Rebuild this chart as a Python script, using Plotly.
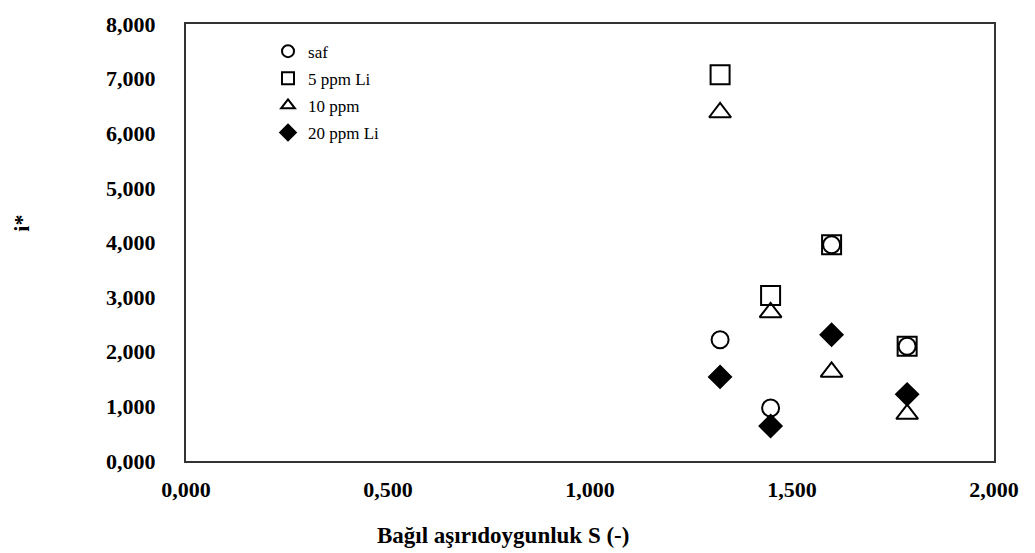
import plotly.graph_objects as go

x_s = [1.322, 1.447, 1.598, 1.785]
saf = [2.22, 0.97, 3.96, 2.10]
li5 = [7.07, 3.03, 3.96, 2.10]
ppm10 = [6.38, 2.72, 1.63, 0.86]
li20 = [1.54, 0.64, 2.31, 1.22]

series_names = ["saf", "5 ppm Li", "10 ppm", "20 ppm Li"]
series_vals = [saf, li5, ppm10, li20]
symbols = ["circle-open", "square-open", "triangle-up-open", "diamond"]
sizes = [17, 19, 19, 17]

fig = go.Figure()
for i, (nm, vals, sym, sz) in enumerate(zip(series_names, series_vals, symbols, sizes)):
    fig.add_trace(go.Scatter(
        x=x_s, y=vals, mode="markers", name=nm, legendgroup=nm,
        marker=dict(symbol=sym, size=sz, color="black",
                    line=dict(color="black", width=2)),
    ))

tick_font = dict(family="Liberation Serif", size=22, color="black", weight="bold")
fig.update_layout(
    width=1035, height=553,
    margin=dict(l=186, r=41, t=20, b=92),
    paper_bgcolor="white", plot_bgcolor="white",
    separators=",.",
    font=dict(family="Liberation Serif", color="black"),
    showlegend=True,
    legend=dict(x=0.1015, y=0.978, xanchor="left", yanchor="top",
                bgcolor="rgba(0,0,0,0)", itemsizing="constant", itemwidth=30,
                tracegroupgap=2, traceorder="grouped",
                font=dict(family="Liberation Serif", size=17, color="black")),
    xaxis=dict(range=[0, 2], tickvals=[0, 0.5, 1, 1.5, 2], tickformat=".3f",
               showgrid=False, zeroline=False, showline=True, mirror=True,
               linecolor="#333333", linewidth=2, ticks="",
               tickfont=tick_font, ticklabelstandoff=8),
    yaxis=dict(range=[0, 8], dtick=1, tickformat=".3f",
               showgrid=False, zeroline=False, showline=True, mirror=True,
               linecolor="#333333", linewidth=2, ticks="",
               tickfont=tick_font, ticklabelstandoff=24),
)
fig.add_annotation(text="<b>i*</b>", xref="paper", yref="paper",
                   x=(22 - 186) / 808, y=(461.5 - 222) / 441, xanchor="center", yanchor="middle",
                   textangle=-90, showarrow=False,
                   font=dict(family="Liberation Serif", size=22, color="black"))
fig.add_annotation(text="<b>Bağıl aşırıdoygunluk S (-)</b>", xref="paper", yref="paper",
                   x=(503 - 186) / 808, y=-(537 - 461.5) / 441, xanchor="center", yanchor="middle",
                   showarrow=False, font=dict(family="Liberation Serif", size=23, color="black"))
fig.write_html("out.html")
